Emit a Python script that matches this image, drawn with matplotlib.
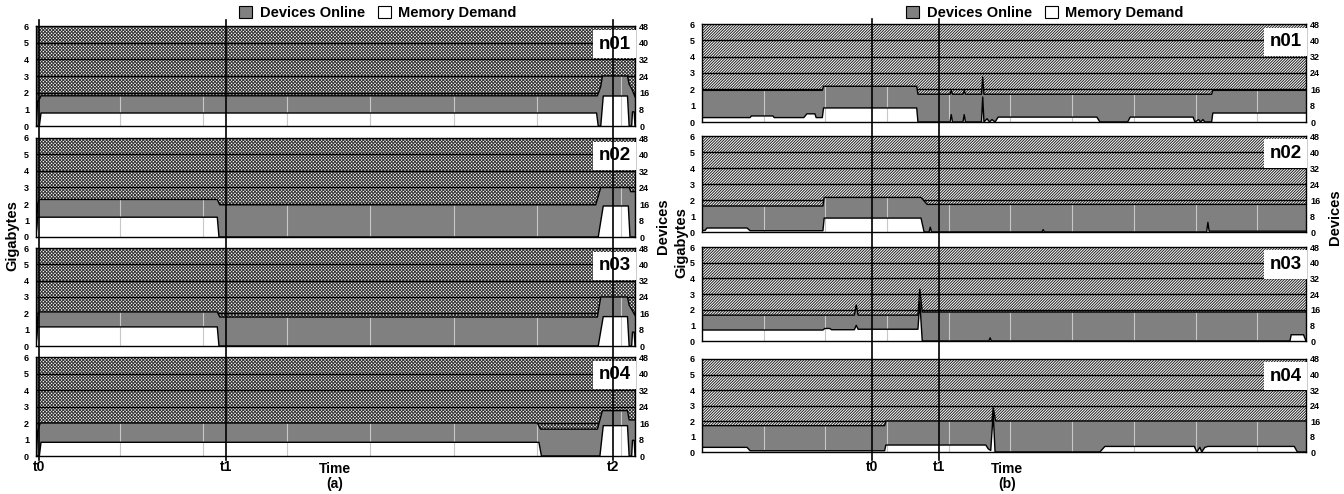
import numpy as np
import matplotlib
matplotlib.use("Agg")
import matplotlib.pyplot as plt
from matplotlib.patches import Patch
from matplotlib.lines import Line2D
import matplotlib.transforms as mtrans

plt.rcParams['font.family'] = ['Liberation Sans', 'DejaVu Sans']
plt.rcParams['font.weight'] = 'bold'
plt.rcParams['hatch.linewidth'] = 0.7

# ---------------- data: panel (a) ----------------
a_names = ["n01", "n02", "n03", "n04"]
a_dev_x = [
    [0, 0.02, 0.03, 0.06, 6.72, 6.76, 6.78, 7.08, 7.10, 7.13, 7.17],
    [0, 0.02, 0.04, 2.17, 2.20, 6.70, 6.76, 7.10, 7.12, 7.17],
    [0, 0.02, 0.04, 2.17, 2.20, 6.72, 6.76, 7.08, 7.10, 7.13, 7.17],
    [0, 0.02, 0.05, 6.00, 6.04, 6.72, 6.78, 7.08, 7.10, 7.17],
]
a_dev_y = [
    [0, 12, 12, 14.5, 14.5, 19, 24, 24, 20, 18, 14],
    [0, 16, 18.2, 18.2, 15.6, 15.6, 24, 24, 22, 22],
    [0, 14, 16.7, 16.7, 14.2, 14.2, 24, 24, 20, 18, 15],
    [0, 12, 16, 16, 13, 13, 22, 22, 17.5, 17.5],
]
a_mem_x = [
    [0, 0.04, 0.06, 6.71, 6.73, 6.76, 6.79, 7.08, 7.10, 7.13, 7.14, 7.16, 7.17],
    [0, 0.02, 0.04, 2.17, 2.19, 6.73, 6.79, 7.09, 7.11, 7.17],
    [0, 0.02, 0.04, 2.17, 2.19, 6.73, 6.79, 7.08, 7.10, 7.13, 7.14, 7.16, 7.17],
    [0, 0.04, 0.06, 6.02, 6.05, 6.75, 6.79, 7.08, 7.10, 7.13, 7.14, 7.16, 7.17],
]
a_mem_y = [
    [0, 0, 0.78, 0.78, 0, 0, 1.8, 1.8, 0, 0, 0.85, 0.85, 0],
    [0, 1.2, 1.2, 1.2, 0, 0, 1.88, 1.88, 0, 0],
    [0, 1.17, 1.17, 1.17, 0, 0, 1.8, 1.8, 0, 0, 0.85, 0.85, 0],
    [0, 0, 0.83, 0.83, 0, 0, 1.84, 1.84, 0, 0, 0.95, 0.95, 0],
]
a_marks = ["t0", "t1", "t2"]
a_mark_x = [0.036, 2.27, 6.91]
a_xmax = 7.17

# ---------------- data: panel (b) ----------------
b_names = ["n01", "n02", "n03", "n04"]
b_dev_x = [
    [0, 1.95, 1.97, 3.48, 3.50, 4.02, 4.04, 4.06, 4.23, 4.25, 4.27, 4.53, 4.55, 4.57, 8.26, 8.28, 9.79],
    [0, 1.96, 1.98, 3.55, 3.65, 9.79],
    [0, 2.47, 2.50, 2.53, 3.50, 3.53, 3.57, 9.79],
    [0, 2.96, 2.98, 4.70, 4.72, 4.76, 9.79],
]
b_dev_y = [
    [15.5, 15.5, 17.5, 17.5, 13.6, 13.6, 15.5, 13.6, 13.6, 15.5, 13.6, 13.6, 22, 13.6, 13.6, 15.5, 15.5],
    [13, 13, 17.3, 17.3, 13.8, 13.8],
    [13.2, 13.2, 18.4, 13.2, 13.2, 26.4, 14.8, 14.8],
    [13.6, 13.6, 16, 16, 22.8, 16, 16],
]
b_mem_x = [
    [0, 0.78, 0.80, 1.15, 1.17, 1.65, 1.70, 1.83, 1.85, 1.95, 1.97, 3.48, 3.50, 4.02, 4.04, 4.06,
     4.23, 4.25, 4.27, 4.53, 4.55, 4.57, 4.62, 4.66, 4.70, 4.75, 4.80, 6.40, 6.45, 6.90, 6.94,
     7.96, 7.99, 8.05, 8.08, 8.12, 8.15, 8.26, 8.28, 9.79],
    [0, 0.05, 0.08, 0.73, 0.78, 1.96, 1.98, 3.55, 3.60, 3.68, 3.70, 3.72, 5.51, 5.53, 5.55,
     8.18, 8.20, 8.22, 9.79],
    [0, 1.96, 1.99, 2.07, 2.10, 2.47, 2.50, 2.53, 3.48, 3.50, 3.53, 3.57, 4.65, 4.67, 4.69,
     9.53, 9.55, 9.75, 9.79],
    [0, 0.73, 0.78, 2.96, 2.98, 4.60, 4.64, 4.68, 4.72, 4.75, 6.45, 6.53, 7.98, 8.02, 8.07,
     8.10, 8.15, 8.20, 9.60, 9.65, 9.79],
]
b_mem_y = [
    [0.27, 0.27, 0.37, 0.37, 0.27, 0.27, 0.5, 0.5, 0.27, 0.27, 0.86, 0.86, 0, 0, 0.45, 0,
     0, 0.45, 0, 0, 1.53, 0, 0.2, 0, 0.15, 0, 0.3, 0.3, 0, 0, 0.3,
     0.3, 0, 0.15, 0, 0.15, 0, 0, 0.55, 0.55],
    [0.1, 0.1, 0.25, 0.25, 0.08, 0.08, 0.87, 0.87, 0, 0, 0.3, 0, 0, 0.15, 0,
     0, 0.6, 0.05, 0.05],
    [0.7, 0.7, 0.8, 0.8, 0.72, 0.72, 1.0, 0.75, 0.75, 0.75, 2.5, 0, 0, 0.2, 0,
     0, 0.4, 0.4, 0],
    [0.3, 0.3, 0.08, 0.08, 0.45, 0.45, 0.2, 0.1, 2.5, 0, 0, 0.36, 0.36, 0, 0.3,
     0, 0.3, 0.36, 0.36, 0, 0],
]
b_marks = ["t0", "t1"]
b_mark_x = [2.755, 3.84]
b_xmax = 9.79

gb_ticks = [0, 1, 2, 3, 4, 5, 6]
dev_ticks = [0, 8, 16, 24, 32, 40, 48]
DEV_PER_GB = 8.0

W, H = 1344, 494
fig = plt.figure(figsize=(W / 100, H / 100), dpi=100)

GRAY = '#808080'


def fx(px):
    return px / W


def fy(py):
    return 1 - py / H


def draw_panel(rect, name, dx, dy, mx, my, xmax, hatch, hcolor):
    l, t, r, b = rect
    ax = fig.add_axes([fx(l), fy(b), fx(r - l), (b - t) / H])
    ax.set_xlim(0, xmax)
    ax.set_ylim(0, 6)
    dx = np.asarray(dx, float)
    dgb = np.asarray(dy, float) / DEV_PER_GB
    mx = np.asarray(mx, float)
    my = np.asarray(my, float)
    # hatched area above the devices line
    ax.fill_between(dx, dgb, 6, facecolor='white', edgecolor=hcolor,
                    hatch=hatch, linewidth=0, zorder=1)
    for g in [1, 2, 3, 4, 5]:
        ax.axhline(g, color='black', lw=1.0, zorder=1.5)
    # devices (gray) and memory (white)
    ax.fill_between(dx, 0, dgb, facecolor=GRAY, edgecolor='none', zorder=2)
    ax.fill_between(mx, 0, my, facecolor='white', edgecolor='none', zorder=2.2)
    # vertical light gridlines up to devices level
    for gx in range(1, int(xmax) + 1):
        top = np.interp(gx, dx, dgb)
        ax.vlines(gx, 0, top, colors='#c8c8c8', lw=0.8, zorder=2.4)
    ax.plot(dx, dgb, color='black', lw=1.0, zorder=3)
    ax.plot(mx, my, color='black', lw=1.0, zorder=3)
    ax.set_xticks([])
    ax.set_yticks(gb_ticks)
    ax.set_yticklabels([str(v) for v in gb_ticks], fontsize=6.5, fontweight='bold')
    ax.tick_params(axis='y', length=0, pad=5)
    sec = ax.secondary_yaxis('right', functions=(lambda y: y * DEV_PER_GB,
                                                 lambda d: d / DEV_PER_GB))
    sec.set_yticks(dev_ticks)
    sec.set_yticklabels([str(v) for v in dev_ticks], fontsize=6.5, fontweight='bold')
    sec.tick_params(axis='y', length=0, pad=3)
    for s in sec.spines.values():
        s.set_visible(False)
    for s in ax.spines.values():
        s.set_color('black')
        s.set_linewidth(1.0)
        s.set_zorder(4)
    ax.text(0.993, 0.905, name, transform=ax.transAxes, ha='right', va='top',
            fontsize=13.5, fontweight='bold', zorder=5,
            bbox=dict(facecolor='white', edgecolor='none', pad=4))
    return ax


a_rects = [(36, 26, 635, 126), (36, 138, 635, 237), (36, 248, 635, 346), (36, 357, 635, 456)]
b_rects = [(702, 24, 1306, 122), (702, 136, 1306, 232), (702, 247, 1306, 341), (702, 359, 1306, 452)]

a_axes = [draw_panel(a_rects[i], a_names[i], a_dev_x[i], a_dev_y[i], a_mem_x[i], a_mem_y[i],
                     a_xmax, 'x' * 10, '#333333') for i in range(4)]
b_axes = [draw_panel(b_rects[i], b_names[i], b_dev_x[i], b_dev_y[i], b_mem_x[i], b_mem_y[i],
                     b_xmax, '/' * 12, '#202020') for i in range(4)]


def marker_lines(ax, xs, labels, ytop, ybot):
    tr = mtrans.blended_transform_factory(ax.transData, fig.transFigure)
    for x, lab in zip(xs, labels):
        fig.add_artist(Line2D([x, x], [fy(ytop), fy(ybot)], transform=tr,
                              color='black', lw=1.2, zorder=10))
        fig.text(0, fy(467), lab, transform=tr, ha='center', va='center',
                 fontsize=10, fontweight='bold')
        fig.texts[-1].set_x(x)


marker_lines(a_axes[-1], a_mark_x, a_marks, 20, 460)
marker_lines(b_axes[-1], b_mark_x, b_marks, 19, 460)

fig.text(fx(335), fy(469), "Time", ha='center', va='center', fontsize=10, fontweight='bold')
fig.text(fx(335), fy(484), "(a)", ha='center', va='center', fontsize=10, fontweight='bold')
fig.text(fx(1007), fy(469), "Time", ha='center', va='center', fontsize=10, fontweight='bold')
fig.text(fx(1007), fy(484), "(b)", ha='center', va='center', fontsize=10, fontweight='bold')

fig.text(fx(12), fy(236), "Gigabytes", rotation=90, ha='center', va='center',
         fontsize=10.5, fontweight='bold')
fig.text(fx(663), fy(226), "Devices", rotation=90, ha='center', va='center',
         fontsize=10.5, fontweight='bold')
fig.text(fx(681), fy(243), "Gigabytes", rotation=90, ha='center', va='center',
         fontsize=10.5, fontweight='bold')
fig.text(fx(1335), fy(217), "Devices", rotation=90, ha='center', va='center',
         fontsize=10.5, fontweight='bold')

handles = [Patch(facecolor=GRAY, edgecolor='black', lw=0.8),
           Patch(facecolor='white', edgecolor='black', lw=0.8)]
labels = ["Devices Online", "Memory Demand"]
for cx in (fx(378), fx(1045)):
    fig.legend(handles, labels, loc='center', bbox_to_anchor=(cx, fy(13)), ncol=2,
               frameon=False, prop={'weight': 'bold', 'size': 10.5},
               handlelength=0.9, handleheight=0.9, handletextpad=0.5, columnspacing=0.9,
               borderpad=0, borderaxespad=0)

fig.savefig("out.png", dpi=100)
